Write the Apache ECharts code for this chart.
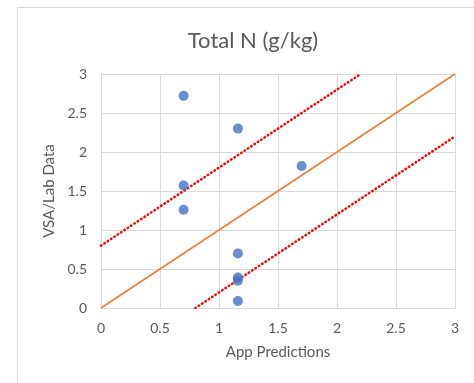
<!DOCTYPE html>
<html><head><meta charset="utf-8">
<script src="https://cdn.jsdelivr.net/npm/echarts@6/dist/echarts.min.js"></script>
<style>html,body{margin:0;padding:0;background:#fff}#c{width:474px;height:383px}</style>
</head><body><div id="c"></div>
<script>
const titleText = "Total N (g/kg)";
const xName = "App Predictions";
const yName = "VSA/Lab Data";
const appPred = [0.7, 1.16, 1.7, 0.7, 0.7, 1.16, 1.16, 1.16, 1.16];
const labData = [2.72, 2.30, 1.82, 1.57, 1.26, 0.70, 0.39, 0.35, 0.09];
const oneToOne = [[0, 0], [3, 3]];
const upperBound = [[0, 0.8], [2.2, 3]];
const lowerBound = [[0.8, 0], [3, 2.2]];

const font = "Lato, 'Liberation Sans', sans-serif";
const chart = echarts.init(document.getElementById('c'), null, {renderer: 'canvas'});
chart.setOption({
  animation: false,
  backgroundColor: '#fff',
  graphic: [{type: 'rect', shape: {x: 17.5, y: 7.5, width: 600, height: 500}, style: {fill: 'none', stroke: '#d9d9d9', lineWidth: 1}, z: -1}],
  title: {text: titleText, left: 248, textAlign: 'center', top: 25, textStyle: {fontFamily: font, fontSize: 22, fontWeight: 'normal', color: '#595959'}},
  grid: {left: 101, right: 19, top: 74, bottom: 75},
  xAxis: {type: 'value', min: 0, max: 3, interval: 0.5, name: xName, nameLocation: 'middle', nameGap: 37,
    nameTextStyle: {fontFamily: font, fontSize: 15, color: '#595959'},
    axisLine: {show: true, lineStyle: {color: '#d9d9d9'}}, axisTick: {show: false},
    axisLabel: {fontFamily: font, fontSize: 14, color: '#595959', margin: 13},
    splitLine: {show: true, lineStyle: {color: '#d9d9d9', width: 1}}},
  yAxis: {type: 'value', min: 0, max: 3, interval: 0.5, name: yName, nameLocation: 'middle', nameGap: 42,
    nameTextStyle: {fontFamily: font, fontSize: 15, color: '#595959'},
    axisLine: {show: true, lineStyle: {color: '#d9d9d9'}}, axisTick: {show: false},
    axisLabel: {fontFamily: font, fontSize: 14, color: '#595959', margin: 14},
    splitLine: {show: true, lineStyle: {color: '#d9d9d9', width: 1}}},
  series: [
    {type: 'line', data: oneToOne, symbol: 'none', lineStyle: {color: '#ED7D31', width: 1.5}, z: 2},
    {type: 'line', data: upperBound, symbol: 'none', lineStyle: {color: '#FF0000', width: 2.5, type: [0.5, 3.5], cap: 'round'}, z: 2},
    {type: 'line', data: lowerBound, symbol: 'none', lineStyle: {color: '#FF0000', width: 2.5, type: [0.5, 3.5], cap: 'round'}, z: 2},
    {type: 'scatter', data: appPred.map((x, i) => [x, labData[i]]), symbolSize: 10, itemStyle: {color: '#4472C4'}, z: 3}
  ]
});
</script></body></html>
